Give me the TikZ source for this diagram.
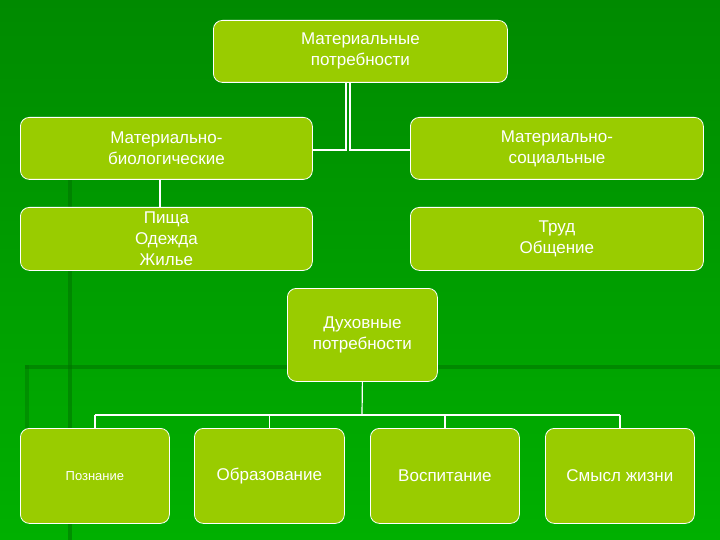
\documentclass[tikz,border=0pt]{standalone}
\usepackage{fontspec}
\setmainfont{Liberation Sans}
\begin{document}
\begin{tikzpicture}[x=1pt,y=-1pt,
 box/.style={draw=white,line width=0.8pt,fill=boxg,rounded corners=9pt,text=white,align=center,font=\fontsize{17}{21}\selectfont,inner sep=0pt,anchor=north west},
 conn/.style={draw=white,line width=1.2pt}]
\definecolor{boxg}{HTML}{99CC00}
\definecolor{bgtop}{HTML}{008A00}
\definecolor{bgbot}{HTML}{00B000}
\definecolor{darkln}{HTML}{007000}
\useasboundingbox (0,0) rectangle (720,540);
\shade[top color=bgtop,bottom color=bgbot] (0,0) rectangle (720,540);
\fill[darkln,opacity=0.5] (68,180) rectangle (72,540);
\fill[darkln,opacity=0.5] (25,365) rectangle (720,369);
\fill[darkln,opacity=0.4] (25,365) rectangle (29,430);
\node[box,minimum width=294,minimum height=62] (top) at (213,20) {Материальные\\потребности};
\node[box,minimum width=292,minimum height=62] (mb) at (20,117) {Материально-\\биологические};
\node[box,minimum width=293,minimum height=62] (ms) at (410,117) {Материально-\\социальные};
\node[box,minimum width=292,minimum height=63] (food) at (20,207) {Пища\\Одежда\\Жилье};
\node[box,minimum width=293,minimum height=63] (lab) at (410,207) {Труд\\Общение};
\node[box,minimum width=150,minimum height=93] (sp) at (287,288) {Духовные\\потребности};
\node[box,minimum width=149,minimum height=95,font=\fontsize{13}{16}\selectfont] (b1) at (20,428) {Познание};
\node[box,minimum width=150,minimum height=95] (b2) at (194,428) {Образование};
\node[box,minimum width=149,minimum height=95] (b3) at (370,428) {Воспитание};
\node[box,minimum width=149,minimum height=95] (b4) at (545,428) {Смысл жизни};
\coordinate (t1) at (346,82);
\coordinate (t2) at (350,82);
\coordinate (j1) at (346,150);
\coordinate (j2) at (350,150);
\coordinate (mbe) at (312,150);
\coordinate (msw) at (410,150);
\coordinate (mbs) at (160,179);
\coordinate (fdn) at (160,207);
\coordinate (hub) at (362,415);
\draw[conn] (t1) -- (j1) -- (mbe);
\draw[conn] (t2) -- (j2) -- (msw);
\draw[conn] (mbs) -- (fdn);
\draw[conn] (sp.south) -- (hub);
\draw[conn] (b1.north |- hub) -- (b4.north |- hub);
\foreach \n in {b1,b2,b3,b4} \draw[conn] (\n.north |- hub) -- (\n.north);
\end{tikzpicture}
\end{document}
